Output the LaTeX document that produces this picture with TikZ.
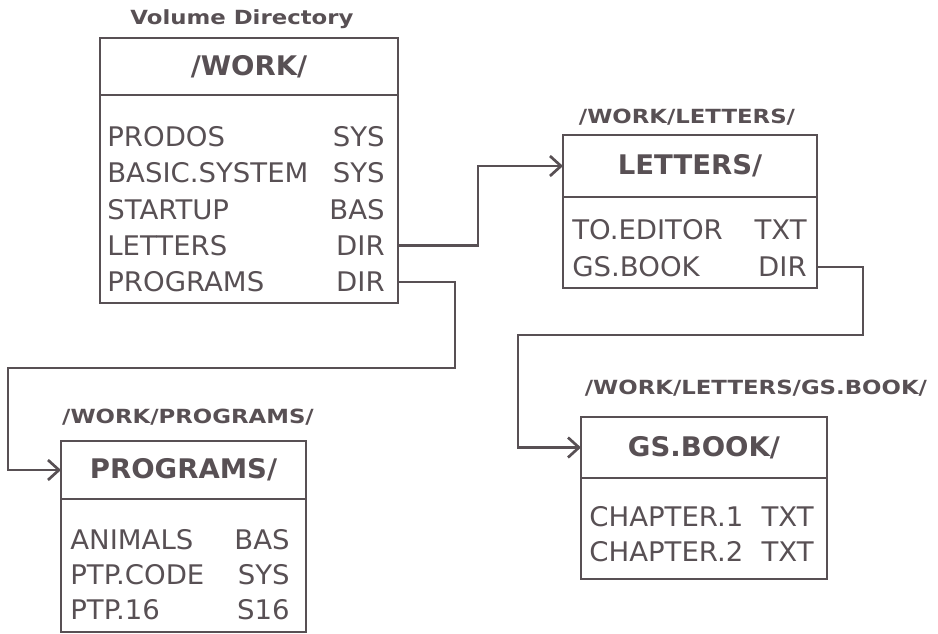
\documentclass[tikz,border=0pt]{standalone}
\usepackage{fontspec}
\setmainfont{DejaVu Sans}
\newfontfamily\rowfont{DejaVu Sans}[FakeStretch=1.02]
\newfontfamily\headfont{DejaVu Sans}[FakeStretch=1.02]
\newfontfamily\pathfont{DejaVu Sans}[FakeStretch=1.17]
\usetikzlibrary{positioning,arrows.meta}
\definecolor{ink}{RGB}{88,80,84}

\begin{document}
\begin{tikzpicture}[x=1pt, y=-1pt, color=ink, line width=2.7pt,
    box/.style={draw, rectangle, outer sep=0pt, inner sep=0pt},
    hdbox/.style={box, font=\headfont\bfseries\fontsize{27}{31}\selectfont},
    entry/.style={anchor=west, inner sep=0pt, font=\rowfont\fontsize{27}{31}\selectfont},
    ftype/.style={entry, anchor=east},
    dirlabel/.style={inner sep=0pt, font=\pathfont\bfseries\fontsize{19.5}{23}\selectfont},
    link/.style={-{Straight Barb[length=11pt,width=20pt]}}]
  \useasboundingbox (0,0) rectangle (938,633);

  % volume directory
  \node[dirlabel] (volume) at (242,19) {Volume Directory};
  \node[hdbox, minimum width=298, minimum height=57] (work) at (249,66.5) {/WORK/};
  \node[box, minimum width=298, minimum height=208, below=0pt of work] (workbody) {};
  \foreach \n/\t [count=\i] in {PRODOS/SYS, BASIC.SYSTEM/SYS, STARTUP/BAS, LETTERS/DIR, PROGRAMS/DIR} {
      \node[entry] (wn\i) at (106,100.5+36.3*\i) {\n};
      \node[ftype] (wt\i) at (386,100.5+36.3*\i) {\t};
    }

  % letters
  \node[dirlabel] (letpath) at (687,117) {/WORK/LETTERS/};
  \node[hdbox, minimum width=254, minimum height=62] (letters) at (690,166) {LETTERS/};
  \node[box, minimum width=254, minimum height=91, below=0pt of letters] (letbody) {};
  \foreach \n/\t [count=\i] in {TO.EDITOR/TXT, GS.BOOK/DIR} {
      \node[entry] (ln\i) at (571,193+37*\i) {\n};
      \node[ftype] (lt\i) at (808,193+37*\i) {\t};
    }

  % programs
  \node[dirlabel] (progpath) at (188,417) {/WORK/PROGRAMS/};
  \node[hdbox, minimum width=245, minimum height=58] (progs) at (183.5,470) {PROGRAMS/};
  \node[box, minimum width=245, minimum height=133, below=0pt of progs] (progbody) {};
  \foreach \n/\t [count=\i] in {ANIMALS/BAS, PTP.CODE/SYS, PTP.16/S16} {
      \node[entry] (pn\i) at (69,505+35*\i) {\n};
      \node[ftype] (pt\i) at (291,505+35*\i) {\t};
    }

  % gs.book
  \node[dirlabel] (gspath) at (756,388) {/WORK/LETTERS/GS.BOOK/};
  \node[hdbox, minimum width=246, minimum height=61] (gsbook) at (704,447.5) {GS.BOOK/};
  \node[box, minimum width=246, minimum height=101, below=0pt of gsbook] (gsbody) {};
  \foreach \n/\t [count=\i] in {CHAPTER.1/TXT, CHAPTER.2/TXT} {
      \node[entry] (gn\i) at (588,482+35*\i) {\n};
      \node[ftype] (gt\i) at (815,482+35*\i) {\t};
    }

  \draw[link] (wt4.east -| workbody.east) -- ++(80,0) |- (letters.west);
  \draw[link] (wt5.east -| workbody.east) -- ++(57,0) -- ++(0,86) -- ++(-447,0) |- (progs.west);
  \draw[link] (lt2.east -| letbody.east) -- ++(46,0) -- ++(0,68) -- ++(-345,0) |- (gsbook.west);
\end{tikzpicture}
\end{document}
